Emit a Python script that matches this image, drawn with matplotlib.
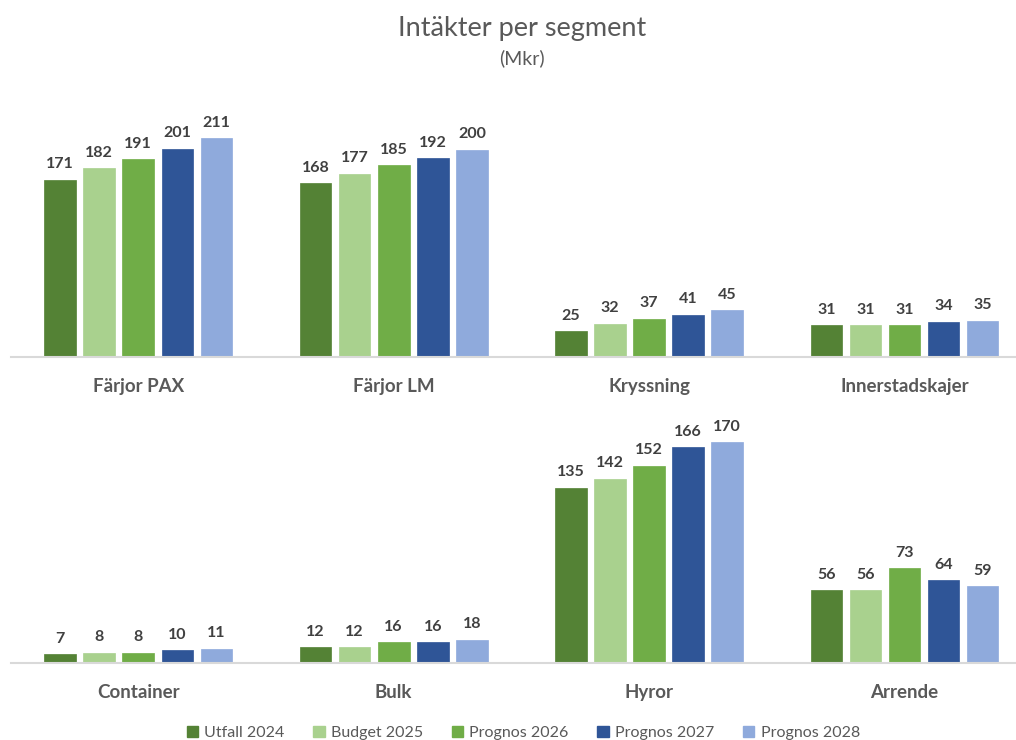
import matplotlib
matplotlib.use("Agg")
import matplotlib.pyplot as plt
import numpy as np
from matplotlib.patches import Patch

plt.rcParams["font.family"] = ["Lato", "DejaVu Sans"]

series = ["Utfall 2024", "Budget 2025", "Prognos 2026", "Prognos 2027", "Prognos 2028"]
colors = ["#548235", "#A9D18E", "#70AD47", "#2F5597", "#8FAADC"]

top_categories = ["Färjor PAX", "Färjor LM", "Kryssning", "Innerstadskajer"]
top_values = [
    [171, 168, 25, 31],
    [182, 177, 32, 31],
    [191, 185, 37, 31],
    [201, 192, 41, 34],
    [211, 200, 45, 35],
]

bottom_categories = ["Container", "Bulk", "Hyror", "Arrende"]
bottom_values = [
    [7, 12, 135, 56],
    [8, 12, 142, 56],
    [8, 16, 152, 73],
    [10, 16, 166, 64],
    [11, 18, 170, 59],
]

TEXT = "#595959"
LABEL = "#404040"


def draw_panel(ax, categories, values, ymax):
    x = np.arange(len(categories))
    step = 0.153
    width = 0.124
    offsets = (np.arange(len(series)) - 2) * step
    for i, name in enumerate(series):
        bars = ax.bar(x + offsets[i], values[i], width=width, color=colors[i],
                      edgecolor=colors[i], linewidth=0.5, label=name)
        for rect, v in zip(bars, values[i]):
            ax.annotate(f"{v}", (rect.get_x() + rect.get_width() / 2, rect.get_height()),
                        xytext=(0, 6), textcoords="offset points", ha="center",
                        va="bottom", fontsize=11.5, fontweight="bold", color=LABEL)
    ax.set_xlim(-0.5, len(categories) - 0.5)
    ax.set_ylim(0, ymax)
    ax.set_xticks(x)
    ax.set_xticklabels(categories, fontsize=13.5, fontweight="bold", color=TEXT)
    ax.tick_params(axis="x", length=0, pad=15)
    ax.set_yticks([])
    for side in ["top", "left", "right"]:
        ax.spines[side].set_visible(False)
    ax.spines["bottom"].set_color("#D9D9D9")
    ax.spines["bottom"].set_linewidth(1.5)


fig = plt.figure(figsize=(10.16, 7.4), dpi=100)
ax_top = fig.add_axes([10.6 / 1016, 0.5176, 1021.6 / 1016, 0.35])
ax_bot = fig.add_axes([10.6 / 1016, 0.104, 1021.6 / 1016, 0.316])

draw_panel(ax_top, top_categories, top_values, 250)
draw_panel(ax_bot, bottom_categories, bottom_values, 180)

fig.text(0.514, 0.962, "Intäkter per segment", ha="center", va="center",
         fontsize=19.5, color=TEXT)
fig.text(0.514, 0.921, "(Mkr)", ha="center", va="center", fontsize=14, color=TEXT)

handles = [Patch(facecolor=c, edgecolor=c) for c in colors]
fig.legend(handles, series, loc="center", bbox_to_anchor=(0.515, 0.01),
           ncol=5, frameon=False, fontsize=11.5, labelcolor=TEXT,
           handlelength=0.7, handleheight=0.7, handletextpad=0.4, columnspacing=1.8)

fig.savefig("out.png", dpi=100)
